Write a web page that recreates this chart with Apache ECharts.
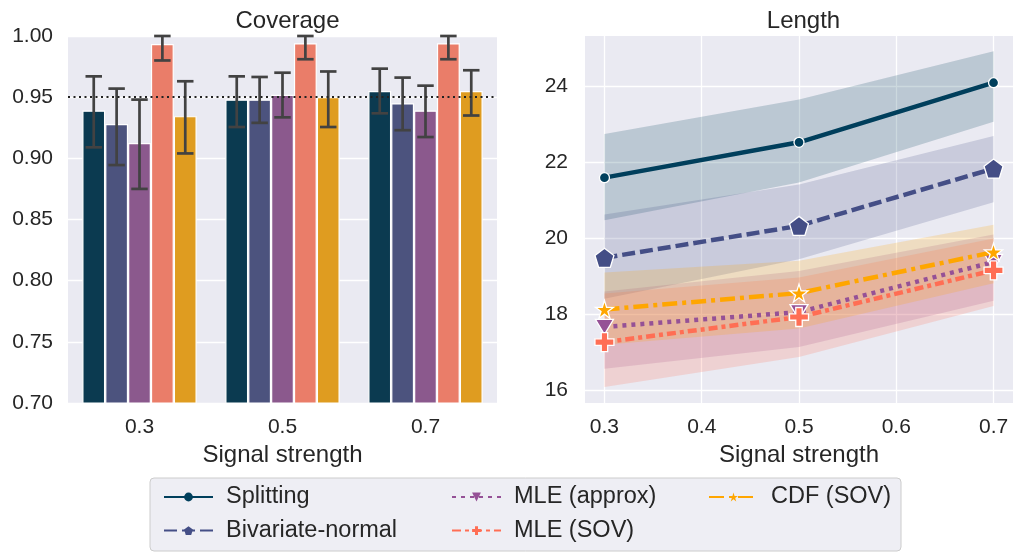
<!DOCTYPE html>
<html>
<head>
<meta charset="utf-8">
<title>Coverage and length</title>
<script src="https://cdn.jsdelivr.net/npm/echarts@6/dist/echarts.min.js"></script>
<style>
  html, body { margin: 0; padding: 0; background: #ffffff; }
  #chart { width: 1015px; height: 552px; }
</style>
</head>
<body>
<div id="chart"></div>
<script>
// categories / x values
const categories = ['0.3', '0.5', '0.7']
const signal = [0.3, 0.5, 0.7]
const methods = ['Splitting', 'Bivariate-normal', 'MLE (approx)', 'MLE (SOV)', 'CDF (SOV)']

// coverage (bar heights) and error bar ends, one array per method
const covSplitting = [0.939, 0.948, 0.955]
const covBivariate = [0.928, 0.948, 0.945]
const covMleApprox = [0.9125, 0.952, 0.939]
const covMleSov = [0.9935, 0.994, 0.994]
const covCdfSov = [0.9345, 0.950, 0.955]

const covLoSplitting = [0.909, 0.9256, 0.9368]
const covHiSplitting = [0.967, 0.967, 0.9733]
const covLoBivariate = [0.8945, 0.929, 0.923]
const covHiBivariate = [0.957, 0.9665, 0.966]
const covLoMleApprox = [0.875, 0.9335, 0.9174]
const covHiMleApprox = [0.948, 0.970, 0.9594]
const covLoMleSov = [0.980, 0.981, 0.981]
const covHiMleSov = [1.0, 1.0, 1.0]
const covLoCdfSov = [0.904, 0.9256, 0.935]
const covHiCdfSov = [0.963, 0.971, 0.972]

const nominal = 0.95

// length (lines) and band ends
const lenSplitting = [21.6, 22.53, 24.1]
const lenBivariate = [19.49, 20.33, 21.84]
const lenMleApprox = [17.67, 18.06, 19.38]
const lenMleSov = [17.27, 17.93, 19.16]
const lenCdfSov = [18.13, 18.56, 19.64]

const lenLoSplitting = [20.48, 21.47, 23.07]
const lenHiSplitting = [22.75, 23.66, 24.93]
const lenLoBivariate = [18.41, 19.45, 20.95]
const lenHiBivariate = [20.63, 21.42, 22.7]
const lenLoMleApprox = [16.57, 17.14, 18.36]
const lenHiMleApprox = [18.6, 19.14, 20.1]
const lenLoMleSov = [16.09, 16.88, 18.22]
const lenHiMleSov = [18.55, 18.97, 20.0]
const lenLoCdfSov = [17.2, 17.63, 18.82]
const lenHiCdfSov = [19.1, 19.41, 20.36]

// tick labels
const covTicks = [0.70, 0.75, 0.80, 0.85, 0.90, 0.95, 1.00]
const lenYTicks = [16, 18, 20, 22, 24]
const lenXTicks = [0.3, 0.4, 0.5, 0.6, 0.7]

// colours
const barColors = ['#0b3a50', '#4c537e', '#8b598d', '#ea7d69', '#df9c20']
const lineColors = ['#003f5c', '#444e86', '#955196', '#ff6e54', '#ffa600']

const FONT = '"Liberation Sans", Arial, sans-serif'
const TEXT = '#262626'
const BG = '#eaeaf2'

const covValues = [covSplitting, covBivariate, covMleApprox, covMleSov, covCdfSov]
const covLo = [covLoSplitting, covLoBivariate, covLoMleApprox, covLoMleSov, covLoCdfSov]
const covHi = [covHiSplitting, covHiBivariate, covHiMleApprox, covHiMleSov, covHiCdfSov]
const lenValues = [lenSplitting, lenBivariate, lenMleApprox, lenMleSov, lenCdfSov]
const lenLo = [lenLoSplitting, lenLoBivariate, lenLoMleApprox, lenLoMleSov, lenLoCdfSov]
const lenHi = [lenHiSplitting, lenHiBivariate, lenHiMleApprox, lenHiMleSov, lenHiCdfSov]

// marker shapes
const pentagon = 'path://M0,-10 L9.51,-3.09 L5.88,8.09 L-5.88,8.09 L-9.51,-3.09 Z'
const triDown = 'path://M-10,-9 L10,-9 L0,9 Z'
const plus = 'path://M-3.4,-10 H3.4 V-3.4 H10 V3.4 H3.4 V10 H-3.4 V3.4 H-10 V-3.4 H-3.4 Z'
const star = 'path://M0,-10 L2.25,-3.09 L9.51,-3.09 L3.63,1.18 L5.88,8.09 L0,3.82 L-5.88,8.09 L-3.63,1.18 L-9.51,-3.09 L-2.25,-3.09 Z'

const symbols = ['circle', pentagon, triDown, plus, star]
const symbolSizes = [10, 19, [18, 15], 19, 18]
const dashes = ['solid', [13, 5], [4, 5], [9, 4, 4, 4], [15, 5, 4, 5]]

const chart = echarts.init(document.getElementById('chart'))

const barSeries = methods.map((m, i) => ({
  name: m + ' cov',
  type: 'bar',
  xAxisIndex: 0,
  yAxisIndex: 0,
  data: covValues[i],
  barGap: '0%',
  barCategoryGap: '20%',
  itemStyle: { color: barColors[i], borderColor: '#ffffff', borderWidth: 1.2 },
  silent: true,
  markLine: i === 0 ? {
    silent: true,
    symbol: 'none',
    z: 10,
    label: { show: false },
    lineStyle: { color: '#222222', type: [2, 3.5], width: 1.8 },
    data: [{ yAxis: nominal }]
  } : undefined
}))

// error bars on top of the bars
const errData = []
methods.forEach((m, i) => {
  categories.forEach((c, j) => {
    errData.push([j, covLo[i][j], covHi[i][j], i])
  })
})

const errSeries = {
  type: 'custom',
  xAxisIndex: 0,
  yAxisIndex: 0,
  silent: true,
  z: 5,
  encode: { x: 0, y: [1, 2] },
  data: errData,
  renderItem: (params, api) => {
    const cat = api.value(0)
    const k = api.value(3)
    const catW = api.size([1, 0])[0]
    const barW = catW * 0.8 / methods.length
    const cx = api.coord([cat, api.value(1)])[0] + (k - 2) * barW
    const yLo = api.coord([cat, api.value(1)])[1]
    const yHi = api.coord([cat, api.value(2)])[1]
    const half = barW * 0.36
    const style = { stroke: '#424242', lineWidth: 2.7 }
    return {
      type: 'group',
      children: [
        { type: 'line', shape: { x1: cx, y1: yLo, x2: cx, y2: yHi }, style },
        { type: 'line', shape: { x1: cx - half, y1: yLo, x2: cx + half, y2: yLo }, style },
        { type: 'line', shape: { x1: cx - half, y1: yHi, x2: cx + half, y2: yHi }, style }
      ]
    }
  }
}

// shaded bands for length
const bandSeries = methods.map((m, i) => ({
  type: 'custom',
  xAxisIndex: 1,
  yAxisIndex: 1,
  silent: true,
  z: 1,
  encode: { x: 0, y: [1, 2] },
  data: signal.map((x, j) => [x, lenLo[i][j], lenHi[i][j]]),
  renderItem: (params, api) => {
    if (params.dataIndex !== 0) return
    const top = signal.map((x, j) => api.coord([x, lenHi[i][j]]))
    const bot = signal.map((x, j) => api.coord([x, lenLo[i][j]])).reverse()
    return {
      type: 'polygon',
      shape: { points: top.concat(bot) },
      style: { fill: lineColors[i], opacity: 0.2 }
    }
  }
}))

const lineSeries = methods.map((m, i) => ({
  name: m,
  type: 'line',
  xAxisIndex: 1,
  yAxisIndex: 1,
  z: 3 + i,
  data: signal.map((x, j) => [x, lenValues[i][j]]),
  symbol: symbols[i],
  symbolSize: symbolSizes[i],
  showAllSymbol: true,
  lineStyle: { color: lineColors[i], width: 4.5, type: dashes[i], cap: 'butt' },
  itemStyle: { color: lineColors[i], borderColor: '#ffffff', borderWidth: 1.3, opacity: 1 },
  emphasis: { disabled: true }
}))

const legendBase = {
  orient: 'vertical',
  top: 480,
  itemWidth: 49,
  itemHeight: 11,
  itemGap: 9.6,
  selectedMode: false,
  lineStyle: { width: 2 },
  itemStyle: { borderWidth: 0 },
  textStyle: { fontFamily: FONT, fontSize: 23.5, color: TEXT, lineHeight: 23, padding: [0, 0, 0, 8] }
}

const option = {
  backgroundColor: '#ffffff',
  animation: false,
  textStyle: { fontFamily: FONT },
  title: [
    { text: 'Coverage', left: 282.5, top: 4, textAlign: 'center',
      textStyle: { fontFamily: FONT, fontSize: 24, fontWeight: 'normal', color: TEXT } },
    { text: 'Length', left: 798.5, top: 4, textAlign: 'center',
      textStyle: { fontFamily: FONT, fontSize: 24, fontWeight: 'normal', color: TEXT } }
  ],
  graphic: [
    {
      type: 'rect',
      left: 149.5, top: 477.5,
      shape: { width: 751, height: 73, r: 4 },
      style: { fill: '#eeeef4', stroke: '#cccccc', lineWidth: 1 },
      z: -1
    }
  ],
  legend: [
    Object.assign({}, legendBase, { left: 158, data: [methods[0], methods[1]] }),
    Object.assign({}, legendBase, { left: 446, data: [methods[2], methods[3]] }),
    Object.assign({}, legendBase, { left: 703, data: [methods[4]] })
  ],
  grid: [
    { left: 68, top: 36, width: 429, height: 367, show: true, backgroundColor: BG, borderWidth: 0 },
    { left: 585, top: 36, width: 428, height: 367, show: true, backgroundColor: BG, borderWidth: 0 }
  ],
  xAxis: [
    {
      gridIndex: 0,
      type: 'category',
      data: categories,
      axisLine: { show: false },
      axisTick: { show: false },
      splitLine: { show: false },
      axisLabel: { color: TEXT, fontSize: 21, margin: 14, fontFamily: FONT },
      name: 'Signal strength',
      nameLocation: 'middle',
      nameGap: 40,
      nameTextStyle: { color: TEXT, fontSize: 24, fontFamily: FONT }
    },
    {
      gridIndex: 1,
      type: 'value',
      min: 0.28,
      max: 0.72,
      axisLine: { show: false },
      axisTick: { show: false, customValues: lenXTicks },
      splitLine: { show: true, lineStyle: { color: '#ffffff', width: 1.3 } },
      axisLabel: { color: TEXT, fontSize: 21, margin: 14, fontFamily: FONT,
        customValues: lenXTicks, formatter: v => v.toFixed(1) },
      name: 'Signal strength',
      nameLocation: 'middle',
      nameGap: 40,
      nameTextStyle: { color: TEXT, fontSize: 24, fontFamily: FONT }
    }
  ],
  yAxis: [
    {
      gridIndex: 0,
      type: 'value',
      min: 0.7,
      max: 1.0,
      interval: 0.05,
      axisLine: { show: false },
      axisTick: { show: false, customValues: covTicks },
      splitLine: { show: true, lineStyle: { color: '#ffffff', width: 1.3 } },
      axisLabel: { color: TEXT, fontSize: 21, margin: 15, fontFamily: FONT,
        customValues: covTicks, formatter: v => v.toFixed(2) }
    },
    {
      gridIndex: 1,
      type: 'value',
      min: 15.666,
      max: 25.33,
      axisLine: { show: false },
      axisTick: { show: false, customValues: lenYTicks },
      splitLine: { show: true, lineStyle: { color: '#ffffff', width: 1.3 } },
      axisLabel: { color: TEXT, fontSize: 21, margin: 17, fontFamily: FONT,
        customValues: lenYTicks, formatter: v => String(v) }
    }
  ],
  series: [].concat(barSeries, [errSeries], bandSeries, lineSeries)
}

chart.setOption(option)
</script>
</body>
</html>
